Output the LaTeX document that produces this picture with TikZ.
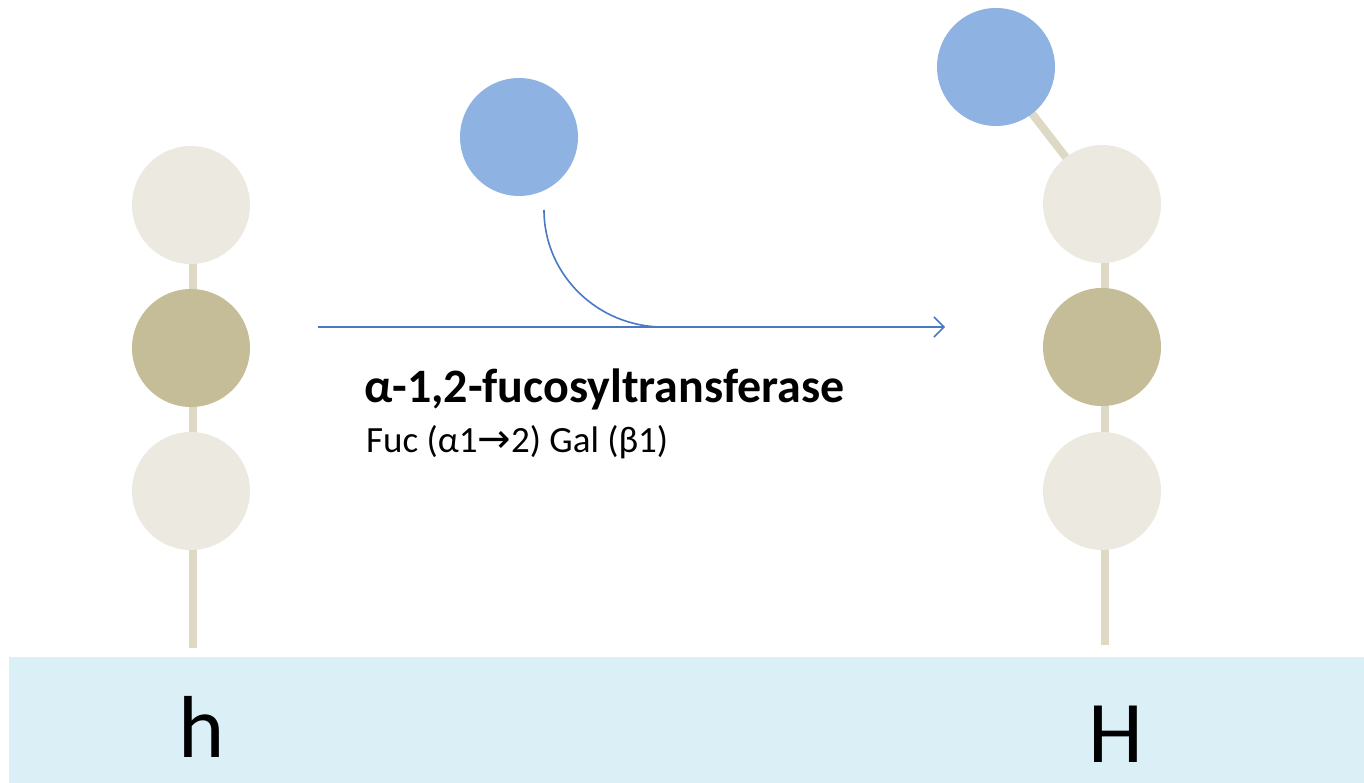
\documentclass[tikz,border=0pt]{standalone}
\usepackage{fontspec}
\setmainfont{Carlito}
\newfontfamily\symfont{DejaVu Sans}
\usetikzlibrary{arrows.meta}
\definecolor{band}{RGB}{218,239,246}
\definecolor{lightsug}{RGB}{236,234,224}
\definecolor{darksug}{RGB}{196,189,151}
\definecolor{fucose}{RGB}{142,179,226}
\definecolor{stem}{RGB}{221,217,196}
\definecolor{arrowblue}{RGB}{74,120,196}
\tikzset{
  sugar/.style={circle, minimum size=118pt, inner sep=0pt, draw=none},
  light/.style={sugar, fill=lightsug},
  dark/.style={sugar, fill=darksug},
  fuc/.style={sugar, fill=fucose},
  stemline/.style={draw=stem, line width=8pt},
  react/.style={draw=arrowblue, line width=1.6pt},
}
\begin{document}
\begin{tikzpicture}[x=1pt,y=-1pt]
\useasboundingbox (0,0) rectangle (1364,783);
% band
\fill[band] (9,657) rectangle (1364,783);
% chains
\coordinate (lbot) at (193,648);
\coordinate (rbot) at (1105,645);
\draw[stemline] (193,205) -- (lbot);
\draw[stemline] (1105,204) -- (rbot);
\draw[stemline] (996,67) -- (1102,204);
\node[light] (l1) at (191,205) {};
\node[dark]  (l2) at (191,348) {};
\node[light] (l3) at (191,491) {};
\node[light] (r1) at (1102,204) {};
\node[dark]  (r2) at (1102,347) {};
\node[light] (r3) at (1102,491) {};
\node[fuc]   (rf) at (996,67) {};
\node[fuc]   (f)  at (519,137) {};
% arrow
\coordinate (a0) at (318,327);
\coordinate (a1) at (945,327);
\coordinate (c0) at (544,210);
\coordinate (c1) at (663,327);
\draw[react, -{Straight Barb[length=10pt,width=20pt]}] (a0) -- (a1);
\draw[react] (c0) .. controls (544,275) and (598,327) .. (c1);
% texts
\node[anchor=base west, inner sep=0pt, font=\fontsize{48}{52}\selectfont\bfseries] (enz) at (364,402) {α-1,2-fucosyltransferase};
\node[anchor=base west, inner sep=0pt, font=\fontsize{37}{40}\selectfont] (lnk) at (366,452) {Fuc (α1{\symfont\fontsize{40}{40}\selectfont →}2) Gal (β1)};
\node[anchor=base, inner sep=0pt, font=\fontsize{88}{90}\selectfont] (h) at (202,757) {h};
\node[anchor=base, inner sep=0pt, font=\fontsize{88}{90}\selectfont] (H) at (1116,762) {H};
\end{tikzpicture}
\end{document}
